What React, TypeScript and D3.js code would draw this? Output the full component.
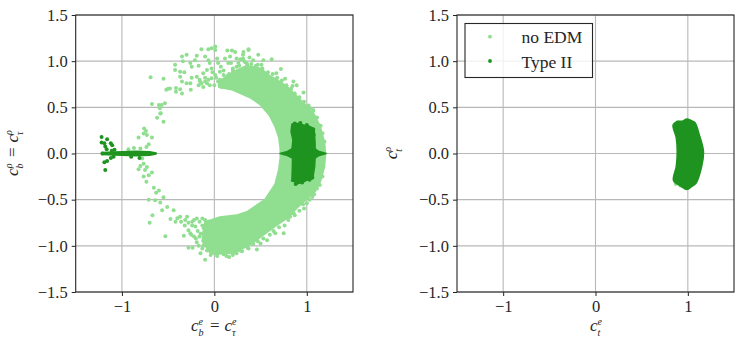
import React, { useEffect, useRef } from "react";
import * as d3 from "d3";

type Pt = [number, number];

const width = 747;
const height = 348;
const marginTop = 15;
const marginBottom = 292;
const leftPanel = { left: 75.7, right: 353 };
const rightPanel = { left: 457, right: 734 };

const xTicks = [-1, 0, 1];
const yTicks = [-1.5, -1, -0.5, 0, 0.5, 1, 1.5];
const seriesNames = ["no EDM", "Type II"];

const lightColor = "#90de90";
const darkColor = "#1f931f";

// outline of the solid part of the no EDM ring
const ringOutline: Pt[] = [
  [0.05, 0.72], [0.2, 0.69], [0.28, 0.655], [0.4, 0.6], [0.5, 0.53], [0.6, 0.41], [0.66, 0.29], [0.7, 0.17], [0.715, 0.05],
  [0.715, -0.05], [0.7, -0.17], [0.66, -0.33], [0.55, -0.5], [0.36, -0.63], [0.24, -0.67], [0.06, -0.69], [-0.03, -0.72], [-0.1, -0.74],
  [-0.13, -0.95], [-0.05, -1.07], [0.0, -1.09], [0.1, -1.08], [0.21, -1.08], [0.32, -1.02], [0.41, -0.97], [0.53, -0.88], [0.68, -0.77], [0.8, -0.69],
  [0.89, -0.59], [1.0, -0.49], [1.09, -0.41], [1.15, -0.29], [1.19, -0.14], [1.2, 0],
  [1.19, 0.12], [1.14, 0.3], [1.08, 0.42], [1.0, 0.51], [0.9, 0.61], [0.8, 0.71], [0.72, 0.77], [0.6, 0.84], [0.5, 0.92], [0.35, 0.95], [0.2, 0.88], [0.05, 0.78],
];

const lightScatter: Pt[] = [
  [0.01, 1.16], [-0.03, 1.14], [-0.065, 1.13], [-0.14, 1.13], [0.01, 1.12], [-0.3, 1.07], [-0.35, 1.05], [-0.34, 1.0],
  [-0.425, 0.96], [-0.425, 0.905], [-0.37, 0.886], [-0.325, 0.88], [-0.19, 1.06], [-0.21, 1.01], [-0.26, 0.98], [-0.245, 0.94],
  [-0.17, 0.95], [-0.1, 1.05], [-0.065, 1.01], [-0.05, 0.98], [-0.08, 0.905], [-0.03, 0.92], [0.03, 1.03], [0.04, 0.98],
  [0.06, 0.886], [0.01, 0.85], [-0.12, 0.87], [-0.19, 0.83], [-0.155, 0.78], [-0.17, 0.74], [-0.12, 0.72], [-0.065, 0.8],
  [-0.03, 0.815], [0.04, 0.78], [0.1, 0.85], [0.14, 1.115], [0.19, 1.115], [0.225, 1.1], [0.315, 1.1], [0.37, 1.12],
  [0.17, 1.05], [0.24, 1.03], [0.315, 1.01], [0.115, 1.03], [0.15, 0.98], [0.24, 0.94], [0.315, 0.92], [0.355, 0.96],
  [-0.69, 0.825], [-0.55, 0.81], [-0.5, 0.7], [-0.52, 0.69], [-0.48, 0.705], [-0.415, 0.71], [-0.37, 0.695], [-0.415, 0.67],
  [-0.35, 0.65], [-0.37, 0.83], [-0.35, 0.78], [-0.3, 0.76], [-0.245, 0.82], [-0.26, 0.76], [-0.255, 0.69],
  [-0.675, 0.535], [-0.6, 0.525], [-0.57, 0.525], [-0.535, 0.545], [-0.59, 0.49], [-0.58, 0.435],
  [-0.62, 0.386], [-0.585, 0.433], [-0.55, 0.343], [-0.76, 0.27], [-0.74, 0.245], [-0.765, 0.217], [-0.73, 0.2], [-0.82, 0.173],
  [-0.675, 0.173], [-0.71, 0.1], [-0.735, 0.07], [-0.87, 0.06], [-0.8, 0.055], [-0.93, 0.045],
  [-0.78, -0.055], [-0.765, -0.11], [-0.8, -0.135], [-0.73, -0.145], [-0.75, -0.18], [-0.675, -0.205], [-0.82, -0.17], [-0.71, -0.235],
  [-0.735, -0.305], [-0.765, -0.25], [-0.655, -0.37], [-0.6, -0.4], [-0.63, -0.425], [-0.71, -0.5], [-0.55, -0.475], [-0.585, -0.53],
  [-0.64, -0.505], [-0.51, -0.58], [-0.565, -0.615], [-0.44, -0.615], [-0.67, -0.67], [-0.7, -0.75], [-0.53, -0.895], [-0.475, -0.71],
  [-0.42, -0.74], [-0.37, -0.685], [-0.315, -0.72], [-0.295, -0.685], [-0.24, -0.74], [-0.19, -0.705], [-0.13, -0.705], [-0.28, -0.83],
  [-0.26, -0.865], [-0.33, -0.89], [-0.28, -1.02], [-0.235, -1.02], [-0.13, -1.03], [-0.1, -1.15], [-0.15, -1.08], [-0.04, -1.1],
  [-0.19, -0.96], [-0.115, -0.94], [-0.22, -0.9], [-0.15, -0.87], [-0.205, -0.79], [-0.115, -0.81], [-0.16, -0.74], [-0.08, -0.98],
  [0.46, -1.04], [0.37, -1.03], [0.66, -0.865], [0.57, -0.94], [0.5, -0.975], [0.75, -0.865], [0.625, -0.76], [0.82, -0.685],
  [0.86, -0.65], [0.97, -0.595], [1.0, -0.54], [0.97, -0.47], [1.06, -0.47], [1.11, -0.38], [0.13, -1.11], [0.2, -1.1], [0.28, -1.05],
  [0.37, 1.13], [0.31, 1.07], [0.475, 1.07], [0.62, 1.02], [0.72, 0.915], [0.765, 0.81], [0.855, 0.78], [0.845, 0.73],
  [0.89, 0.74], [0.965, 0.66], [0.9, 0.57], [1.035, 0.49], [1.07, 0.47], [0.53, 1.01], [0.42, 1.01], [0.51, 0.96], [0.67, 0.87], [0.31, 1.03],
  [-0.08, 0.76], [0.0, 0.74], [0.07, 0.76], [0.12, 0.8], [0.16, 0.86], [0.2, 0.9], [0.08, 0.72], [0.26, 0.98], [0.35, 0.98], [0.45, 0.95],
  // rough outer edge of the ring
  [0.2, 0.92], [0.27, 0.95], [0.33, 0.99], [0.4, 0.97], [0.47, 0.96], [0.52, 0.92], [0.58, 0.88], [0.63, 0.86], [0.68, 0.82], [0.73, 0.79],
  [0.78, 0.74], [0.83, 0.7], [0.87, 0.65], [0.92, 0.61], [0.97, 0.56], [1.02, 0.52], [1.07, 0.46], [1.11, 0.39], [1.15, 0.3], [1.17, 0.22], [1.19, 0.13],
  [1.17, -0.25], [1.14, -0.34], [1.08, -0.44], [1.03, -0.5], [0.96, -0.55], [0.92, -0.62], [0.87, -0.67], [0.8, -0.72], [0.76, -0.78], [0.7, -0.8],
  [0.64, -0.84], [0.6, -0.88], [0.53, -0.92], [0.47, -0.95], [0.42, -0.98], [0.36, -1.02], [0.3, -1.06], [0.24, -1.08], [0.16, -1.12], [0.1, -1.09], [0.03, -1.11],
  // lower left cluster
  [-0.03, -1.06], [-0.08, -1.05], [-0.12, -1.0], [-0.17, -1.0], [-0.2, -0.92], [-0.25, -0.88], [-0.18, -0.84], [-0.24, -0.78], [-0.28, -0.75], [-0.32, -0.78],
  [-0.36, -0.74], [-0.4, -0.7], [-0.22, -0.72], [-0.13, -0.78], [-0.16, -0.9], [-0.12, -0.86], [-0.1, -0.72], [-0.07, -0.75],
  // upper cluster
  [-0.16, 0.8], [-0.1, 0.78], [-0.05, 0.74], [0.02, 0.82], [0.06, 0.8], [0.12, 0.76], [0.14, 0.84], [0.18, 0.78], [0.1, 0.9], [0.22, 0.86],
  [0.07, 0.94], [0.18, 0.98], [0.28, 1.02], [0.38, 1.04], [-0.02, 0.88], [-0.1, 0.82], [-0.14, 0.76],
];

// core of Type II on the left panel, with its thin arms along zero
const typeIICore: Pt[] = [
  [0.71, 0], [0.78, 0.018], [0.84, 0.05], [0.85, 0.146], [0.83, 0.236], [0.84, 0.32], [0.91, 0.325], [0.965, 0.31], [1.02, 0.3], [1.08, 0.27],
  [1.09, 0.11], [1.09, 0.05], [1.125, 0.025], [1.21, 0], [1.125, -0.025], [1.09, -0.05], [1.085, -0.143], [1.065, -0.27], [1.0, -0.29],
  [0.945, -0.315], [0.89, -0.33], [0.84, -0.27], [0.845, -0.107], [0.845, -0.05], [0.78, -0.018],
];

const typeIIStrip: Pt[] = [
  [-1.22, 0.012], [-1.0, 0.018], [-0.85, 0.024], [-0.7, 0.018], [-0.63, 0.006], [-0.63, -0.006], [-0.7, -0.018], [-0.85, -0.024], [-1.0, -0.018], [-1.22, -0.012],
];

const typeIIScatter: Pt[] = [
  [-1.22, 0.18], [-1.16, 0.155], [-1.22, 0.12], [-1.19, 0.11], [-1.12, 0.11], [-1.105, 0.09], [-1.18, 0.075], [-1.165, 0.045],
  [-1.21, 0], [-1.11, 0.03], [-1.08, 0.04], [-1.18, -0.18], [-1.19, -0.095], [-1.16, -0.08], [-1.12, -0.05], [-1.09, -0.035], [-0.9, -0.035], [-0.81, -0.05],
  // bumps on the core
  [0.87, 0.325], [0.93, 0.33], [1.0, 0.31], [0.85, 0.29], [1.07, 0.26], [1.075, 0.2], [0.85, -0.29], [0.88, -0.33], [0.95, -0.315], [1.03, -0.285], [1.06, -0.26],
];

// right panel
const typeIITop: Pt[] = [
  [0.84, 0.31], [0.88, 0.345], [0.94, 0.35], [0.99, 0.374], [1.05, 0.35], [1.08, 0.33], [1.125, 0.2], [1.16, 0.08], [1.17, 0.01], [1.15, -0.14], [1.09, -0.32], [1.04, -0.36],
  [0.99, -0.39], [0.92, -0.35], [0.845, -0.295], [0.875, -0.14], [0.885, 0.01], [0.875, 0.17],
];
const lightTop: Pt[] = [[0.89, 0.34], [0.87, -0.33], [0.92, -0.35]];

function Label({ x, y, parts, rotate }: { x: number; y: number; parts: [string, string, string, number][]; rotate?: boolean }) {
  // each part: base letter, superscript, subscript, width of the superscript
  return (
    <text
      textAnchor="middle"
      transform={`translate(${x},${y})${rotate ? " rotate(-90)" : ""}`}
      fontFamily="Liberation Serif"
      fontSize={17}
      fontStyle="italic"
      fill="#262626"
    >
      {parts.map(([base, sup, sub, w], i) =>
        base === "=" ? (
          <tspan key={i} fontStyle="normal" dx={5}>=</tspan>
        ) : (
          <React.Fragment key={i}>
            <tspan dx={i > 0 ? 5 : 0}>{base}</tspan>
            <tspan fontSize={10} dy={-6}>{sup}</tspan>
            <tspan fontSize={10} dx={-w} dy={11}>{sub}</tspan>
            <tspan fontSize={17} dy={-5}>{"\u200a"}</tspan>
          </React.Fragment>
        )
      )}
    </text>
  );
}

function Panel({ bounds, children }: { bounds: { left: number; right: number }; children: (x: any, y: any) => React.ReactNode }) {
  const xRef = useRef<SVGGElement>(null);
  const yRef = useRef<SVGGElement>(null);
  const x = d3.scaleLinear().domain([-1.5, 1.5]).range([bounds.left, bounds.right]);
  const y = d3.scaleLinear().domain([-1.5, 1.5]).range([marginBottom, marginTop]);

  useEffect(() => {
    const style = (sel: any) => {
      sel.selectAll("text").attr("font-family", "Liberation Serif").attr("font-size", 16.5).attr("fill", "#262626");
      sel.selectAll("line").attr("stroke", "#222");
      sel.select(".domain").remove();
    };
    d3.select(xRef.current).call(d3.axisBottom(x).tickValues(xTicks).tickFormat(d3.format("d")).tickSize(4).tickPadding(4) as any).call(style);
    d3.select(yRef.current).call(d3.axisLeft(y).tickValues(yTicks).tickFormat(d3.format(".1f")).tickSize(4).tickPadding(4) as any).call(style);
  }, []);

  return (
    <g>
      {xTicks.map((t) => (
        <line key={t} x1={x(t)} x2={x(t)} y1={marginTop} y2={marginBottom} stroke="#b8b8b8" strokeWidth={1.1} />
      ))}
      {yTicks.map((t) => (
        <line key={t} x1={bounds.left} x2={bounds.right} y1={y(t)} y2={y(t)} stroke="#b8b8b8" strokeWidth={1.1} />
      ))}
      {children(x, y)}
      <rect x={bounds.left} y={marginTop} width={bounds.right - bounds.left} height={marginBottom - marginTop} fill="none" stroke="#262626" strokeWidth={1.1} />
      <g ref={xRef} transform={`translate(0,${marginBottom})`} />
      <g ref={yRef} transform={`translate(${bounds.left},0)`} />
    </g>
  );
}

function area(x: any, y: any, pts: Pt[], curve: any = d3.curveLinearClosed) {
  return d3.line<Pt>().x((d) => x(d[0])).y((d) => y(d[1])).curve(curve)(pts) as string;
}

function dots(x: any, y: any, pts: Pt[], fill: string) {
  return pts.map((d, i) => <circle key={i} cx={x(d[0])} cy={y(d[1])} r={2} fill={fill} />);
}

export default function App() {
  return (
    <svg width={width} height={height} style={{ position: "absolute", left: 0, top: 0, background: "#fff" }}>
      <Panel bounds={leftPanel}>
        {(x, y) => (
          <g>
            <path d={area(x, y, ringOutline)} fill={lightColor} stroke={lightColor} strokeWidth={2} strokeLinejoin="round" />
            {dots(x, y, lightScatter, lightColor)}
            <path d={area(x, y, typeIICore)} fill={darkColor} stroke={darkColor} strokeWidth={1.5} strokeLinejoin="round" />
            <path d={area(x, y, typeIIStrip)} fill={darkColor} stroke={darkColor} strokeWidth={1.5} strokeLinejoin="round" />
            {dots(x, y, typeIIScatter, darkColor)}
          </g>
        )}
      </Panel>
      <Panel bounds={rightPanel}>
        {(x, y) => (
          <g>
            {dots(x, y, lightTop, lightColor)}
            <path d={area(x, y, typeIITop, d3.curveCatmullRomClosed)} fill={darkColor} stroke={darkColor} strokeWidth={1.5} strokeLinejoin="round" />
          </g>
        )}
      </Panel>

      <rect x={465} y={23.5} width={127.5} height={54} fill="#fff" fillOpacity={0.8} stroke="#262626" strokeWidth={1.1} />
      {seriesNames.map((name, i) => (
        <g key={name}>
          <circle cx={490} cy={36.7 + i * 24.3} r={1.9} fill={i === 0 ? lightColor : darkColor} />
          <text x={521.5} y={43 + i * 24.5} fontFamily="Liberation Serif" fontSize={17.5} fill="#262626">{name}</text>
        </g>
      ))}

      <Label x={214} y={331} parts={[["c", "e", "b", 4.5], ["=", "", "", 0], ["c", "e", "τ", 4.5]]} />
      <Label x={18} y={153} rotate parts={[["c", "ρ", "b", 5], ["=", "", "", 0], ["c", "ρ", "τ", 5]]} />
      <Label x={596} y={331} parts={[["c", "e", "t", 4.5]]} />
      <Label x={397} y={153} rotate parts={[["c", "ρ", "t", 5]]} />
    </svg>
  );
}
